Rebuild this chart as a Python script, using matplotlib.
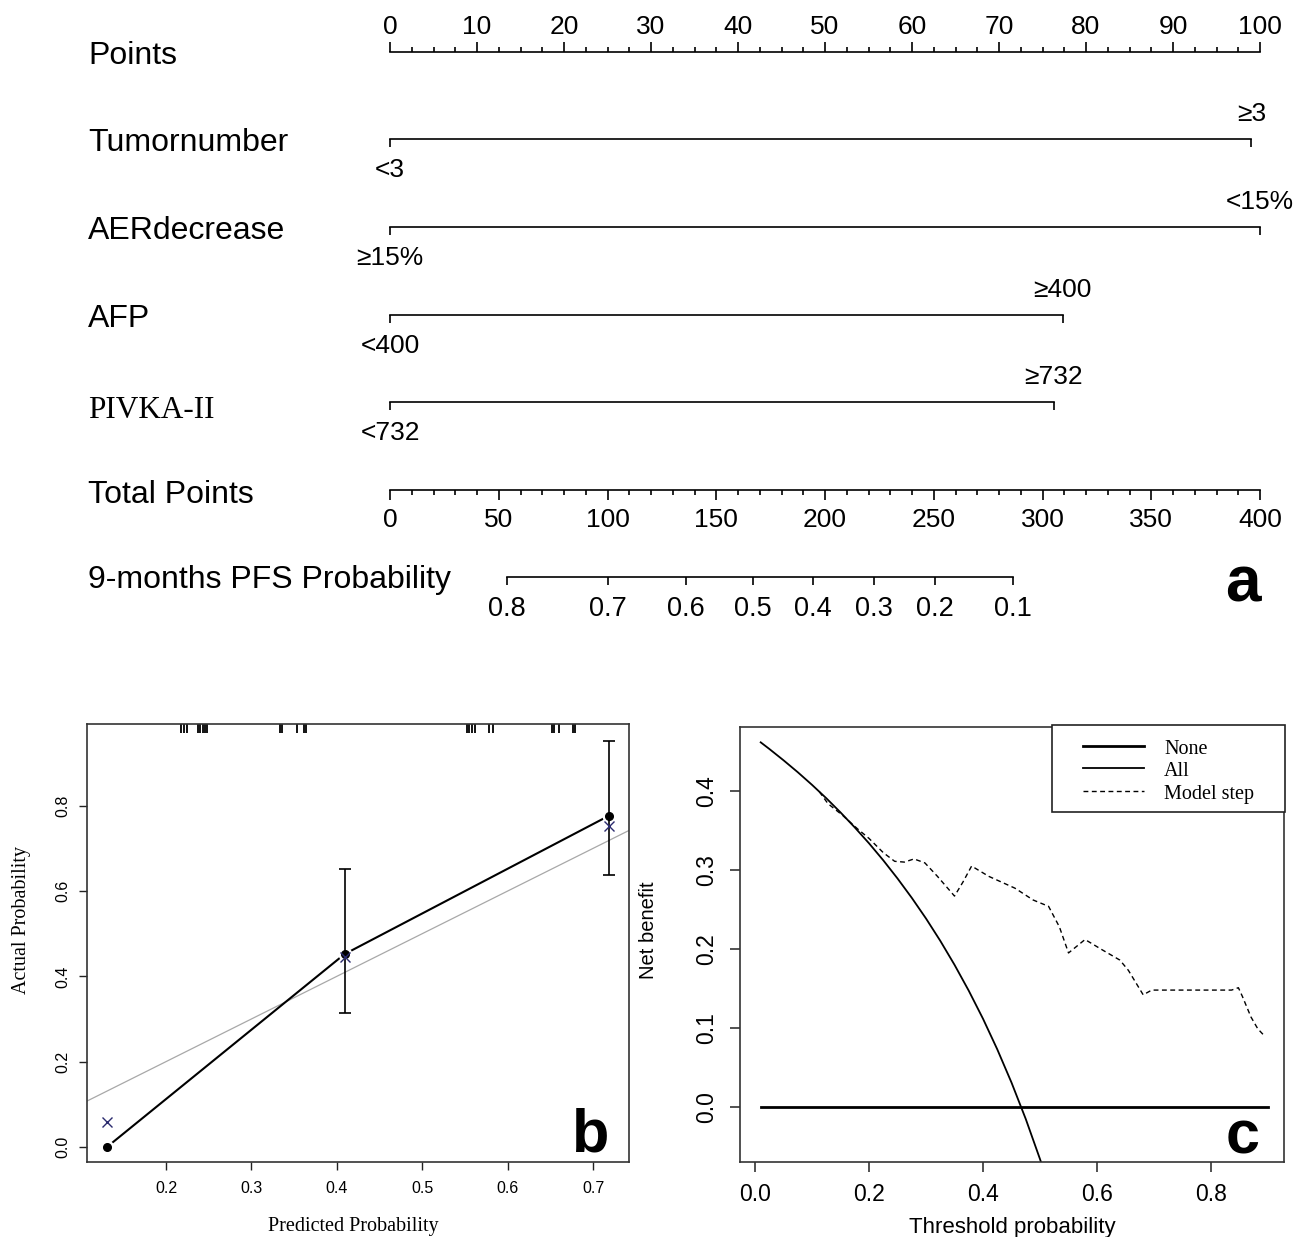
import matplotlib
matplotlib.use('Agg')
import matplotlib.pyplot as plt
import numpy as np
from matplotlib.transforms import blended_transform_factory
from matplotlib.patches import Rectangle
from matplotlib.lines import Line2D

W, H = 1302, 1237
SANS = ['Liberation Sans', 'DejaVu Sans']
NARROW = ['Liberation Sans Narrow', 'Liberation Sans', 'DejaVu Sans']
SERIF = ['Liberation Serif', 'DejaVu Serif']
plt.rcParams['font.family'] = SANS

# ---------------- data: nomogram (a) ----------------
points_major = [0, 10, 20, 30, 40, 50, 60, 70, 80, 90, 100]
variables = ["Tumornumber", "AERdecrease", "AFP", "PIVKA-II"]
level_low = ["<3", "≥15%", "<400", "<732"]
level_high = ["≥3", "<15%", "≥400", "≥732"]
points_low = [0, 0, 0, 0]
points_high = [99.0, 100.0, 77.3, 76.3]
total_major = [0, 50, 100, 150, 200, 250, 300, 350, 400]
pfs_prob = ["0.8", "0.7", "0.6", "0.5", "0.4", "0.3", "0.2", "0.1"]
pfs_total_points = [53.7, 100.1, 135.9, 167.0, 194.5, 222.3, 250.6, 286.3]

# ---------------- data: calibration (b) ----------------
cal_pred = [0.131, 0.409, 0.719]
cal_obs = [0.0, 0.452, 0.777]
cal_lo = [np.nan, 0.315, 0.637]
cal_hi = [np.nan, 0.652, 0.952]
cal_x_obs = [0.059, 0.445, 0.752]
rug_pred = [0.218, 0.221, 0.2246, 0.238, 0.2404, 0.2433, 0.2456, 0.2484,
            0.3331, 0.3357, 0.3532, 0.3613, 0.3644,
            0.552, 0.5551, 0.5579, 0.5614, 0.5784, 0.5825,
            0.6522, 0.6544, 0.6596, 0.676, 0.6784]

# ---------------- data: decision curve (c) ----------------
all_thr = [0.01, 0.025, 0.05, 0.075, 0.10, 0.125, 0.15, 0.175, 0.20, 0.225,
           0.25, 0.275, 0.30, 0.325, 0.35, 0.375, 0.40, 0.425, 0.45, 0.475,
           0.50, 0.51]
all_nb = [0.4616, 0.4533, 0.4389, 0.4238, 0.4078, 0.3909, 0.3729, 0.3539,
          0.3338, 0.3123, 0.2893, 0.2648, 0.2386, 0.2104, 0.1800, 0.1472,
          0.1117, 0.0730, 0.0309, -0.0152, -0.0660, -0.0878]
none_thr = [0.01, 0.90]
none_nb = [0.0, 0.0]
model_thr = [0.113, 0.128, 0.154, 0.18, 0.20, 0.225, 0.245, 0.262, 0.279, 0.298,
             0.32, 0.35, 0.365, 0.38, 0.41, 0.456, 0.488, 0.515, 0.534, 0.55,
             0.579, 0.609, 0.640, 0.655, 0.681, 0.696, 0.836, 0.848, 0.855,
             0.870, 0.882, 0.895]
model_nb = [0.399, 0.384, 0.369, 0.352, 0.340, 0.322, 0.311, 0.310, 0.314, 0.309,
            0.292, 0.267, 0.285, 0.305, 0.292, 0.277, 0.262, 0.254, 0.228, 0.195,
            0.212, 0.199, 0.186, 0.173, 0.142, 0.148, 0.148, 0.151, 0.140,
            0.114, 0.099, 0.089]

fig = plt.figure(figsize=(W / 100, H / 100), dpi=100)


def fx(px):
    return px / W


def fy(py):
    return 1 - py / H


# ======================= Panel a: nomogram =======================
axn = fig.add_axes([fx(390), fy(620), 870 / W, 620 / H])
axn.set_xlim(0, 100)
axn.set_ylim(620, 0)
axn.axis('off')
lab_tr = blended_transform_factory(fig.transFigure, axn.transData)
LW = 1.2
LBL = 23
TCK = 19

# Points axis
y_pts = 52
axn.plot([0, 100], [y_pts, y_pts], color='black', lw=LW, clip_on=False)
axn.vlines(points_major, y_pts - 10, y_pts, color='black', lw=LW, clip_on=False)
minor = [m for m in np.arange(0, 100.01, 2.5) if m not in points_major]
axn.vlines(minor, y_pts - 5, y_pts, color='black', lw=LW, clip_on=False)
for v in points_major:
    axn.text(v, 27, str(v), ha='center', va='center', fontsize=TCK, clip_on=False)
axn.text(88 / W, 56, "Points", transform=lab_tr, ha='left', va='center', fontsize=LBL)

# Variables
rows_y = [139, 227, 315, 402]
for name, lo, hi, plo, phi, y in zip(variables, level_low, level_high,
                                      points_low, points_high, rows_y):
    axn.plot([plo, phi], [y, y], color='black', lw=LW, clip_on=False)
    axn.vlines([plo, phi], y, y + 8, color='black', lw=LW, clip_on=False)
    axn.text(plo, y + 31, lo, ha='center', va='center', fontsize=TCK, clip_on=False)
    axn.text(phi, y - 25, hi, ha='center', va='center', fontsize=TCK, clip_on=False)
    if name == "PIVKA-II":
        axn.text(88 / W, y + 8, name, transform=lab_tr, ha='left', va='center',
                 fontsize=LBL - 0.5, family=SERIF)
    else:
        axn.text(88 / W, y + 4, name, transform=lab_tr, ha='left', va='center',
                 fontsize=LBL)

# Total points axis
y_tot = 490
axn.plot([0, 100], [y_tot, y_tot], color='black', lw=LW, clip_on=False)
tot_minor = [m for m in range(0, 401, 10) if m not in total_major]
axn.vlines([t / 4 for t in total_major], y_tot, y_tot + 10, color='black', lw=LW, clip_on=False)
axn.vlines([t / 4 for t in tot_minor], y_tot, y_tot + 5, color='black', lw=LW, clip_on=False)
for t in total_major:
    axn.text(t / 4, 520, str(t), ha='center', va='center', fontsize=TCK,
             family=NARROW, clip_on=False)
axn.text(88 / W, 495, "Total Points", transform=lab_tr, ha='left', va='center', fontsize=LBL)

# PFS probability axis
y_pfs = 577
pfs_x = [t / 4 for t in pfs_total_points]
axn.plot([pfs_x[0], pfs_x[-1]], [y_pfs, y_pfs], color='black', lw=LW, clip_on=False)
axn.vlines(pfs_x, y_pfs, y_pfs + 8, color='black', lw=LW, clip_on=False)
for lab, x in zip(pfs_prob, pfs_x):
    axn.text(x, 609, lab, ha='center', va='center', fontsize=TCK + 0.5,
             family=NARROW, clip_on=False)
axn.text(88 / W, 580, "9-months PFS Probability", transform=lab_tr, ha='left',
         va='center', fontsize=LBL)

fig.text(fx(1243), fy(584), "a", ha='center', va='center', fontsize=46,
         fontweight='bold', family=NARROW)

# ======================= Panel b: calibration =======================
axb = fig.add_axes([fx(87), fy(1162), 542 / W, 438 / H])
axb.set_xlim(0.1076, 0.742)
axb.set_ylim(-0.0352, 0.9915)
axb.axline((0, 0), (1, 1), color='#a8a8a8', lw=0.9, zorder=1)
axb.plot(cal_pred, cal_obs, color='black', lw=1.5, zorder=2)
axb.plot(cal_pred, cal_obs, 'o', color='black', ms=5, mec='white', mew=5, zorder=3)
axb.errorbar(cal_pred, cal_obs,
             yerr=[np.array(cal_obs) - np.array(cal_lo), np.array(cal_hi) - np.array(cal_obs)],
             fmt='none', ecolor='black', elinewidth=1.2, capsize=4.5, capthick=1.2, zorder=4)
axb.plot(cal_pred, cal_obs, 'o', color='black', ms=5.5, zorder=5)
axb.plot(cal_pred, cal_x_obs, 'x', color='#2b2b6e', ms=6.5, mew=1.0, zorder=6)
axb.vlines(rug_pred, 0.979, 1.0, transform=axb.get_xaxis_transform(), color='black', lw=1.3)
axb.set_xticks([0.2, 0.3, 0.4, 0.5, 0.6, 0.7])
axb.set_yticks([0.0, 0.2, 0.4, 0.6, 0.8])
axb.set_xticklabels(["0.2", "0.3", "0.4", "0.5", "0.6", "0.7"])
axb.set_yticklabels(["0.0", "0.2", "0.4", "0.6", "0.8"], rotation=90, va='center')
axb.tick_params(length=5.8, width=1.0, labelsize=11.5, color='#222222')
axb.tick_params(axis='x', pad=8)
axb.tick_params(axis='y', pad=6)
for s in axb.spines.values():
    s.set_linewidth(1.2)
    s.set_color('#333333')
axb.set_xlabel("Predicted Probability", family=SERIF, fontsize=14.5)
axb.set_ylabel("Actual Probability", family=SERIF, fontsize=14.5)
axb.xaxis.set_label_coords((303 + 50 - 87) / 542, (1162 - 1226) / 438)
axb.xaxis.label.set_va('center')
axb.yaxis.set_label_coords((22 - 87) / 542, (1162 - 920) / 438)
axb.yaxis.label.set_va('center')
fig.text(fx(591), fy(1136), "b", ha='center', va='center', fontsize=44,
         fontweight='bold', family=NARROW)

# ======================= Panel c: decision curve =======================
axc = fig.add_axes([fx(740), fy(1162), 544 / W, 435 / H])
axc.set_xlim(-0.0263, 0.928)
axc.set_ylim(-0.0696, 0.481)
st_none = dict(color='black', lw=2.0, ls='-')
st_all = dict(color='black', lw=1.3, ls='-')
st_model = dict(color='black', lw=1.0, ls=(0, (3.5, 2.5)))
axc.plot(none_thr, none_nb, **st_none)
axc.plot(all_thr, all_nb, **st_all)
axc.plot(model_thr, model_nb, **st_model)
axc.set_xticks([0.0, 0.2, 0.4, 0.6, 0.8])
axc.set_yticks([0.0, 0.1, 0.2, 0.3, 0.4])
axc.set_xticklabels(["0.0", "0.2", "0.4", "0.6", "0.8"])
axc.set_yticklabels(["0.0", "0.1", "0.2", "0.3", "0.4"], rotation=90, va='center')
axc.tick_params(length=7, width=1.1, labelsize=16.5, color='#222222')
axc.tick_params(axis='x', pad=8)
axc.tick_params(axis='y', pad=9)
for s in axc.spines.values():
    s.set_linewidth(1.2)
    s.set_color('#333333')
axc.set_xlabel("Threshold probability", fontsize=16)
axc.set_ylabel("Net benefit", fontsize=14.5)
axc.xaxis.set_label_coords((1012 - 740) / 544, (1162 - 1228) / 435)
axc.xaxis.label.set_va('center')
axc.yaxis.set_label_coords((648 - 740) / 544, (1162 - 930) / 435)
axc.yaxis.label.set_va('center')

# manual legend box
def ax_xy(px, py):
    return (px - 740) / 544, (1162 - py) / 435

x0, y0 = ax_xy(1052, 812)
x1, y1 = ax_xy(1285, 725)
axc.add_patch(Rectangle((x0, y0), x1 - x0, y1 - y0, transform=axc.transAxes,
                        fill=True, facecolor='white', edgecolor='#222222', lw=1.2,
                        clip_on=False, zorder=10))
leg_labels = ["None", "All", "Model step"]
leg_styles = [st_none, st_all, st_model]
leg_rows = [746, 768, 791]
for lab, st, ry in zip(leg_labels, leg_styles, leg_rows):
    lx0, ly = ax_xy(1083, ry)
    lx1, _ = ax_xy(1144, ry)
    axc.add_line(Line2D([lx0, lx1], [ly, ly], transform=axc.transAxes, zorder=11,
                        clip_on=False, **st))
    tx, ty = ax_xy(1164, ry + 3)
    axc.text(tx, ty, lab, transform=axc.transAxes, ha='left', va='center',
             family=SERIF, fontsize=14.5, zorder=12)

fig.text(fx(1243), fy(1138), "c", ha='center', va='center', fontsize=44,
         fontweight='bold', family=NARROW)

fig.savefig("out.png", dpi=100)
